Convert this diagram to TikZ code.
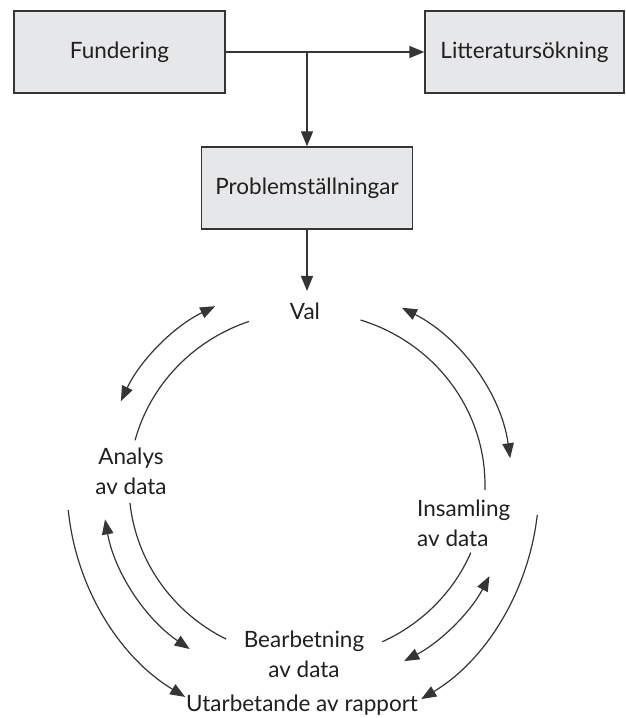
\documentclass[tikz,border=0pt]{standalone}
\usepackage{fontspec}
\setmainfont{Lato}
\usetikzlibrary{arrows.meta}
\definecolor{boxfill}{HTML}{E6E7E8}
\definecolor{ink}{HTML}{231F20}
\definecolor{linec}{HTML}{353535}
\begin{document}
\begin{tikzpicture}[x=1pt,y=1pt,
  box/.style={draw=linec, line width=1.4pt, fill=boxfill, minimum height=82pt, inner sep=0pt,
    font=\fontsize{22.5}{26}\selectfont, text=ink},
  lbl/.style={inner sep=0pt, font=\fontsize{22.5}{30}\selectfont, text=ink, align=center, anchor=base},
  conn/.style={draw=linec, line width=1.4pt, -{Triangle[length=15pt,width=12pt]}},
  arcl/.style={draw=linec, line width=1.2pt},
  dbl/.style={draw=linec, line width=1.2pt, {Triangle[length=15pt,width=11.5pt]}-{Triangle[length=15pt,width=11.5pt]}},
  one/.style={draw=linec, line width=1.2pt, -{Triangle[length=15pt,width=11.5pt]}}]
\useasboundingbox (0,0) rectangle (625,718);
% boxes
\node[box, minimum width=211pt] (fund) at (119.5,666) {Fundering};
\node[box, minimum width=199pt] (litt) at (524.5,666) {Litteratursökning};
\node[box, minimum width=211pt] (prob) at (307,530) {Problemställningar};
\coordinate (j) at (307,666);
\draw[conn] (fund.east) -- (litt.west);
\draw[conn] (j) -- (prob.north);
% labels (base = baseline of the last line)
\node[lbl] (val) at (305,398) {Val};
\node[lbl] (ana) at (131,223) {Analys\\av data};
\node[lbl, align=left, anchor=base west] (ins) at (417,171) {Insamling\\av data};
\node[lbl] (bea) at (304,40) {Bearbetning\\av data};
\node[lbl] (uta) at (302,6) {Utarbetande av rapport};
\coordinate (valtop) at (307,427);
\draw[conn] (prob.south) -- (valtop);
% circle
\coordinate (C) at (307,233);
% inner arcs
\draw[arcl] ([shift={(109:178 and 173)}]C) arc[start angle=109, end angle=165, x radius=178, y radius=173];
\draw[arcl] ([shift={(72.5:178 and 173)}]C) arc[start angle=72.5, end angle=-1.6, x radius=178, y radius=173];
\draw[arcl] ([shift={(337:178 and 173)}]C) arc[start angle=337, end angle=295, x radius=178, y radius=173];
\draw[arcl] ([shift={(186:178 and 173)}]C) arc[start angle=186, end angle=243, x radius=178, y radius=173];
% double arrows
\draw[dbl] ([shift={(116.6:205 and 200)}]C) arc[start angle=116.6, end angle=155.2, x radius=205, y radius=200];
\draw[dbl] ([shift={(62.4:205 and 200)}]C) arc[start angle=62.4, end angle=7.7, x radius=205, y radius=200];
\draw[dbl] ([shift={(332.9:205 and 200)}]C) arc[start angle=332.9, end angle=298.3, x radius=205, y radius=200];
\draw[dbl] ([shift={(189.9:205 and 200)}]C) arc[start angle=189.9, end angle=235.1, x radius=205, y radius=200];
% outermost arrows
\draw[one] ([shift={(185.8:240 and 246)}]C) arc[start angle=185.8, end angle=239.5, x radius=240, y radius=246];
\draw[one] ([shift={(353:232 and 246)}]C) arc[start angle=353, end angle=299.5, x radius=232, y radius=246];
\end{tikzpicture}
\end{document}
